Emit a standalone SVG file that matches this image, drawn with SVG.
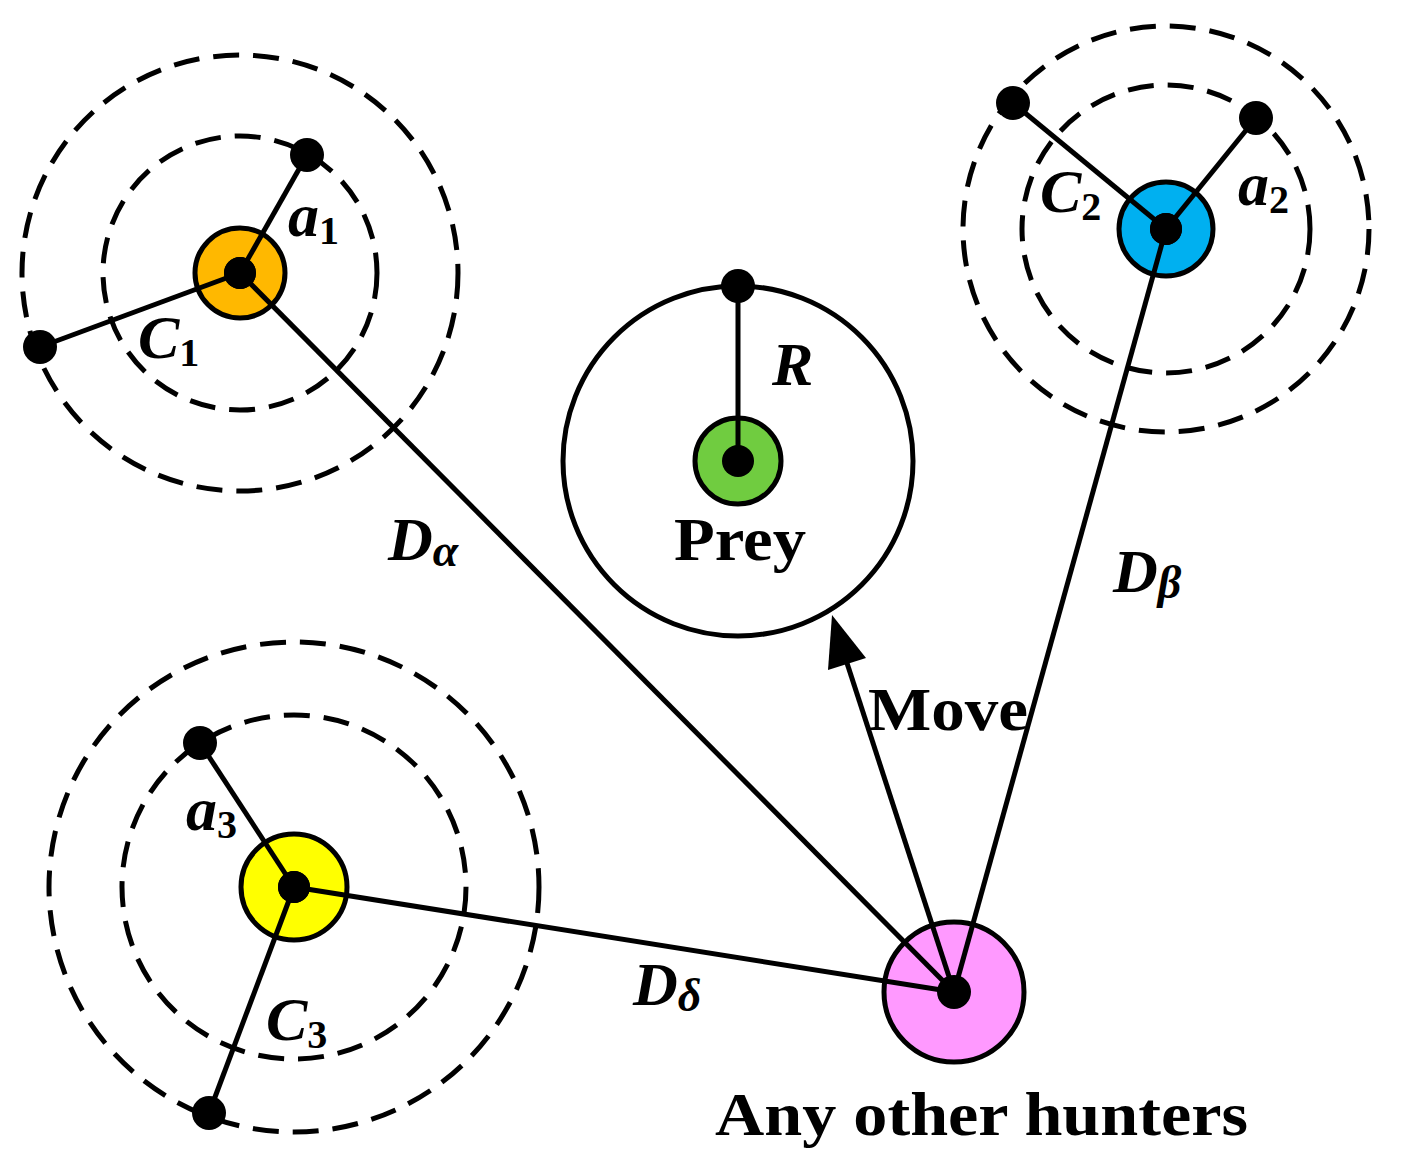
<svg xmlns="http://www.w3.org/2000/svg" width="1405" height="1173" viewBox="0 0 1405 1173">
<style>
.d{fill:none;stroke:#000;stroke-width:5;stroke-dasharray:26,14}
.l{stroke:#000;stroke-width:5;fill:none}
.t{font-family:"Liberation Serif",serif;font-weight:bold;font-size:62px;fill:#000}
.i{font-style:italic}
.s{font-size:40px;font-style:normal}
</style>
<g id="hunter1">
<circle class="d" cx="240" cy="273" r="218"/><circle class="d" cx="240" cy="273" r="137"/>
<circle cx="240" cy="273" r="45" fill="#ffb800" stroke="#000" stroke-width="5"/>
<line class="l" x1="240" y1="273" x2="307" y2="155"/><line class="l" x1="240" y1="273" x2="40" y2="347"/>
<circle cx="240" cy="273" r="16"/><circle cx="307" cy="155" r="17"/><circle cx="40" cy="347" r="17"/>
<text class="t i" x="288" y="236">a<tspan class="s" dy="8">1</tspan></text>
<text class="t i" x="138" y="358">C<tspan class="s" dy="8">1</tspan></text>
</g>
<g id="hunter2">
<circle class="d" cx="1166" cy="229" r="203"/><circle class="d" cx="1166" cy="229" r="144"/>
<circle cx="1166" cy="229" r="47" fill="#00b0f0" stroke="#000" stroke-width="5"/>
<line class="l" x1="1166" y1="229" x2="1013" y2="103"/><line class="l" x1="1166" y1="229" x2="1256" y2="118"/>
<circle cx="1166" cy="229" r="16"/><circle cx="1013" cy="103" r="17"/><circle cx="1256" cy="118" r="17"/>
<text class="t i" x="1238" y="205">a<tspan class="s" dy="8">2</tspan></text>
<text class="t i" x="1040" y="212">C<tspan class="s" dy="8">2</tspan></text>
</g>
<g id="hunter3">
<circle class="d" cx="294" cy="887" r="245"/><circle class="d" cx="294" cy="887" r="172"/>
<circle cx="294" cy="887" r="53" fill="#ffff00" stroke="#000" stroke-width="5"/>
<line class="l" x1="294" y1="887" x2="200" y2="743"/><line class="l" x1="294" y1="887" x2="209" y2="1113"/>
<circle cx="294" cy="887" r="16"/><circle cx="200" cy="743" r="17"/><circle cx="209" cy="1113" r="17"/>
<text class="t i" x="186" y="830">a<tspan class="s" dy="8">3</tspan></text>
<text class="t i" x="266" y="1040">C<tspan class="s" dy="8">3</tspan></text>
</g>
<g id="prey">
<circle class="l" cx="738" cy="461" r="175"/>
<circle cx="738" cy="461" r="43" fill="#70cc40" stroke="#000" stroke-width="5"/>
<line class="l" x1="738" y1="461" x2="738" y2="286"/>
<circle cx="738" cy="461" r="16"/><circle cx="738" cy="286" r="17"/>
<text class="t i" x="772" y="385">R</text>
<text class="t" x="674" y="560" textLength="132" lengthAdjust="spacingAndGlyphs">Prey</text>
</g>
<g id="other">
<circle cx="954" cy="992" r="70" fill="#ff99ff" stroke="#000" stroke-width="5"/>
<text class="t" x="715" y="1135" textLength="533" lengthAdjust="spacingAndGlyphs">Any other hunters</text>
<text class="t" x="868" y="730" textLength="160" lengthAdjust="spacingAndGlyphs">Move</text>
</g>
<g id="connectors">
<line class="l" x1="954" y1="992" x2="240" y2="273"/>
<line class="l" x1="954" y1="992" x2="1166" y2="229"/>
<line class="l" x1="954" y1="992" x2="294" y2="887"/>
<path d="M954,992L846,660" class="l"/>
<polygon points="832,615 866,658 828,670"/>
<circle cx="954" cy="992" r="17"/>
<circle cx="240" cy="273" r="16"/><circle cx="1166" cy="229" r="16"/><circle cx="294" cy="887" r="16"/>
</g>
<g id="labels">
<text class="t i" x="388" y="560">D<tspan font-size="46" dy="6">α</tspan></text>
<text class="t i" x="1113" y="592">D<tspan font-size="46" dy="6">β</tspan></text>
<text class="t i" x="633" y="1005">D<tspan font-size="46" dy="6">δ</tspan></text>
</g>
</svg>
